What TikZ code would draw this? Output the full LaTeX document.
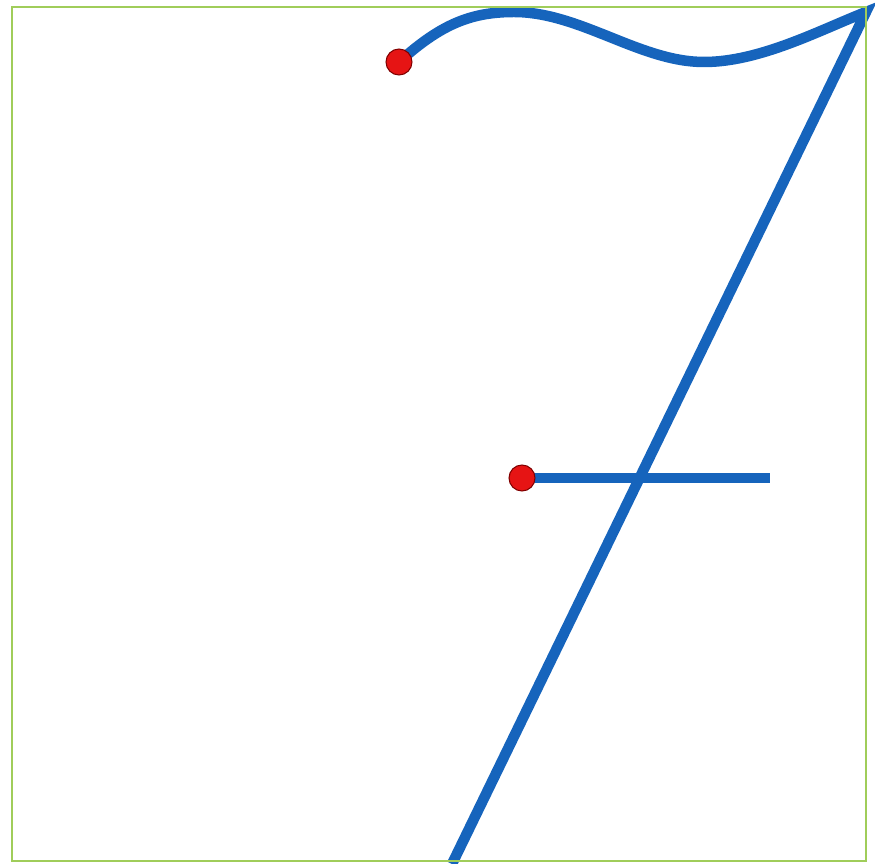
\documentclass[tikz,border=0pt]{standalone}
\usepackage{tikz}
\usetikzlibrary{positioning,calc,backgrounds}
\definecolor{strokeblue}{RGB}{22,100,188}
\definecolor{framegreen}{RGB}{160,205,90}
\definecolor{dotred}{RGB}{230,20,20}

\begin{document}
\begin{tikzpicture}[x=0.02cm, y=-0.02cm,
        stroke/.style={draw=strokeblue, line width=0.21cm},
        startdot/.style={circle, draw=red!50!black, fill=dotred, line width=0.6pt, minimum size=0.52cm, inner sep=0pt}]
        \useasboundingbox (0,0) rectangle (875,864);
        \draw[framegreen, line width=1.1pt] (12,7) rectangle (866,861);
        \coordinate (corner) at (866,12);
        \coordinate (foot) at (452,864);
        \coordinate (barend) at (770,478);
        \node[startdot] (topstart) at (399,62) {};
        \node[startdot] (barstart) at (522,478) {};
        \begin{scope}[on background layer]
        \draw[stroke] (topstart.center) .. controls (440,25) and (470,12) .. (514,12)
            .. controls (580,12) and (640,62) .. (704,62)
            .. controls (760,62) and (820,30) .. (corner) -- (foot);
        \draw[stroke] (barstart.center) -- (barend);
        \end{scope}
    \end{tikzpicture}
\end{document}
